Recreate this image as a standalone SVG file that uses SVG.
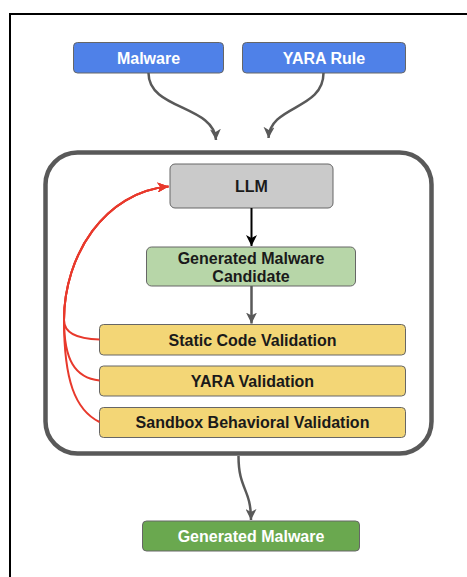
<svg xmlns="http://www.w3.org/2000/svg" width="467" height="577" viewBox="0 0 467 577">
  <defs>
    <marker id="arrowGray" markerUnits="userSpaceOnUse" markerWidth="12" markerHeight="11" refX="11" refY="5.5" orient="auto">
      <path d="M0,0 L11,5.5 L0,11 L3,5.5 z" fill="#595959"/>
    </marker>
    <marker id="arrowBlack" markerUnits="userSpaceOnUse" markerWidth="12" markerHeight="11" refX="11" refY="5.5" orient="auto">
      <path d="M0,0 L11,5.5 L0,11 L3,5.5 z" fill="#000000"/>
    </marker>
    <marker id="arrowRed" markerUnits="userSpaceOnUse" markerWidth="12" markerHeight="10" refX="11" refY="5" orient="auto">
      <path d="M0,0 L11,5 L0,10 L3,5 z" fill="#e8392c"/>
    </marker>
  </defs>
  <style>
    .box { stroke: #666666; stroke-width: 1; }
    .label { font-family: "Liberation Sans", Arial, Helvetica, sans-serif; font-weight: bold; font-size: 16px; text-anchor: middle; fill: #1a1a1a; }
    .light { fill: #ffffff; }
    .blue { fill: #4f81e8; }
    .gray { fill: #cacaca; }
    .mint { fill: #b7d6a8; }
    .yellow { fill: #f3d676; }
    .green { fill: #6aa84f; }
    .flow { fill: none; stroke: #595959; stroke-width: 2.5; marker-end: url(#arrowGray); }
    .feedback { fill: none; stroke: #e8392c; stroke-width: 2; marker-end: url(#arrowRed); }
  </style>

  <rect width="467" height="577" fill="#ffffff"/>

  <!-- outer frame -->
  <path d="M10,577 L10,14 L467,14" fill="none" stroke="#000000" stroke-width="2"/>

  <!-- pipeline container -->
  <g id="pipeline">
    <rect x="45.5" y="152.5" width="386" height="301" rx="32" fill="#ffffff" stroke="#595959" stroke-width="4.5"/>
  </g>

  <g id="malware">
    <rect class="box blue" x="73.5" y="42.5" width="150" height="30.5" rx="4"/>
    <text class="label light" x="148.5" y="63.5">Malware</text>
  </g>

  <g id="yara-rule">
    <rect class="box blue" x="242.5" y="42.5" width="163" height="30.5" rx="4"/>
    <text class="label light" x="324" y="63.5">YARA Rule</text>
  </g>

  <g id="llm">
    <rect class="box gray" x="170" y="164" width="163" height="44" rx="5"/>
    <text class="label" x="251.5" y="192">LLM</text>
  </g>

  <g id="candidate">
    <rect class="box mint" x="146.5" y="247" width="209" height="39" rx="5"/>
    <text class="label" x="251" y="263.5">Generated Malware</text>
    <text class="label" x="251" y="281.5">Candidate</text>
  </g>

  <g id="static-validation">
    <rect class="box yellow" x="99.5" y="324.5" width="306" height="30.5" rx="4"/>
    <text class="label" x="252.5" y="345.5">Static Code Validation</text>
  </g>

  <g id="yara-validation">
    <rect class="box yellow" x="99.5" y="366" width="306" height="30" rx="4"/>
    <text class="label" x="252.5" y="386.5">YARA Validation</text>
  </g>

  <g id="sandbox-validation">
    <rect class="box yellow" x="99.5" y="407.5" width="306" height="30" rx="4"/>
    <text class="label" x="252.5" y="428">Sandbox Behavioral Validation</text>
  </g>

  <g id="generated-malware">
    <rect class="box green" x="142.5" y="521" width="217" height="30" rx="4"/>
    <text class="label light" x="251" y="541.5">Generated Malware</text>
  </g>

  <g id="connectors">
    <path class="flow" d="M148.5,73 C148.5,110 214,105 216,140"/>
    <path class="flow" d="M323.5,73 C323.5,110 270,105 268.5,138"/>
    <path d="M251.5,208 L251.5,246" fill="none" stroke="#000000" stroke-width="2" marker-end="url(#arrowBlack)"/>
    <path class="flow" d="M251.5,286 L251.5,323.5"/>
    <path class="flow" d="M238.5,456 C238.5,490 251,488 251,520"/>
    <path class="feedback" d="M99.5,339.5 C80,339 64,334 64,320 C64,255 105,192 168.5,186.5"/>
    <path class="feedback" d="M99.5,380.5 C75,378 64,360 64,320 C64,255 105,192 168.5,186.5"/>
    <path class="feedback" d="M99.5,422 C75,410 64,380 64,320 C64,255 105,192 168.5,186.5"/>
  </g>
</svg>
